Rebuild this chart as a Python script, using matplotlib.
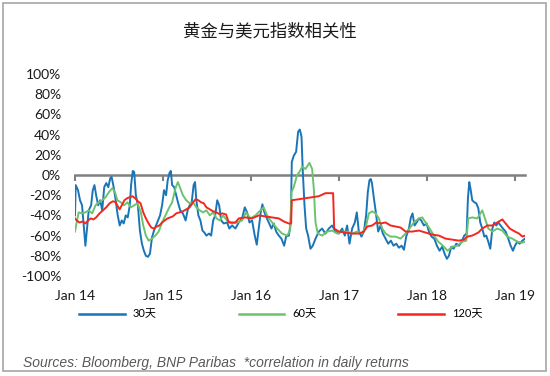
import matplotlib
matplotlib.use('Agg')
import matplotlib.pyplot as plt
from matplotlib.patches import Rectangle
from matplotlib.lines import Line2D

title = '黄金与美元指数相关性'
series_names = ['30天', '60天', '120天']
x_tick_pos = [0, 1, 2, 3, 4, 5]
x_tick_labels = ['Jan 14', 'Jan 15', 'Jan 16', 'Jan 17', 'Jan 18', 'Jan 19']
y_ticks = [-100, -80, -60, -40, -20, 0, 20, 40, 60, 80, 100]
y_tick_labels = ['-100%', '-80%', '-60%', '-40%', '-20%', '0%', '20%', '40%', '60%', '80%', '100%']
source_note = 'Sources: Bloomberg, BNP Paribas  *correlation in daily returns'

# time in years since Jan 2014, values in %
t_30 = [0.000, 0.008, 0.034, 0.057, 0.080, 0.099, 0.118, 0.134, 0.156, 0.183, 0.202, 0.221, 0.240, 0.263,
        0.286, 0.309, 0.332, 0.355, 0.378, 0.401, 0.416, 0.439, 0.462, 0.485, 0.508, 0.531, 0.553, 0.576,
        0.599, 0.622, 0.637, 0.656, 0.672, 0.691, 0.714, 0.737, 0.760, 0.782, 0.805, 0.828, 0.851, 0.874,
        0.897, 0.920, 0.943, 0.966, 0.989, 1.011, 1.034, 1.053, 1.073, 1.088, 1.103, 1.126, 1.149, 1.172,
        1.195, 1.225, 1.256, 1.279, 1.302, 1.324, 1.347, 1.363, 1.378, 1.401, 1.424, 1.447, 1.469, 1.492,
        1.523, 1.546, 1.569, 1.592, 1.615, 1.637, 1.660,
        1.689, 1.727, 1.753, 1.784, 1.822, 1.859, 1.897, 1.928, 1.954, 1.981, 2.011, 2.041, 2.064, 2.087,
        2.109, 2.128, 2.151, 2.174, 2.200, 2.231, 2.257, 2.284, 2.314, 2.344, 2.375, 2.397, 2.428, 2.450,
        2.462, 2.484, 2.511, 2.534, 2.553, 2.572, 2.587, 2.606, 2.625, 2.647, 2.674, 2.700, 2.731, 2.769,
        2.806, 2.844, 2.882, 2.920, 2.958, 2.996, 3.034, 3.064, 3.090, 3.117, 3.147, 3.178, 3.200, 3.223,
        3.253, 3.280, 3.306, 3.325, 3.344, 3.359,
        3.372, 3.394, 3.413, 3.443, 3.470, 3.496, 3.527, 3.557, 3.587, 3.617, 3.648, 3.678, 3.708, 3.735,
        3.761, 3.792, 3.814, 3.833, 3.856, 3.879, 3.905, 3.932, 3.962, 3.992, 4.019, 4.049, 4.080, 4.110,
        4.140, 4.170, 4.197, 4.223, 4.246, 4.273, 4.299, 4.330, 4.360, 4.390, 4.420, 4.447, 4.462, 4.477,
        4.492, 4.511, 4.534, 4.557, 4.580, 4.602, 4.625, 4.648, 4.670, 4.693, 4.716, 4.739, 4.761, 4.784,
        4.807, 4.833, 4.860, 4.890, 4.920, 4.947, 4.973, 4.996, 5.023, 5.049, 5.080, 5.110]
v_30 = [-40, -10, -15, -25, -30, -50, -70, -55, -35, -30, -15, -10, -20, -30,
        -25, -35, -12, -8, -12, -3, -2, -12, -25, -40, -50, -45, -48, -40,
        -42, -30, -10, 4, 3, -20, -30, -55, -68, -75, -80, -81, -78, -62,
        -55, -50, -45, -40, -30, -15, -20, -5, 2, 4, -10, -12, -20, -28,
        -35, -38, -45, -35, -30, -28, -10, -7, -25, -40, -45, -55, -57, -60,
        -58, -60, -45, -40, -25, -30, -45,
        -48, -47, -53, -50, -53, -47, -43, -32, -37, -47, -45, -60, -69, -53,
        -37, -29, -37, -42, -47, -53, -48, -56, -60, -63, -70, -61, -60, -47,
        13, 19, 23, 43, 45, 38, 3, -30, -53, -60, -73, -70, -63, -56,
        -53, -58, -53, -50, -56, -58, -53, -60, -50, -68, -53, -47, -37, -56,
        -61, -56, -40, -17, -5, -4,
        -8, -23, -35, -56, -50, -58, -63, -68, -65, -70, -68, -72, -70, -74,
        -61, -53, -42, -38, -50, -47, -43, -45, -50, -48, -56, -61, -63, -70,
        -75, -71, -78, -83, -80, -71, -73, -68, -70, -66, -60, -58, -23, -7,
        -14, -25, -27, -28, -33, -47, -53, -61, -60, -66, -73, -53, -47, -50,
        -47, -50, -53, -56, -63, -70, -75, -70, -66, -68, -65, -63]

t_60 = [0.000, 0.019, 0.042, 0.080, 0.118, 0.156, 0.195, 0.233, 0.271, 0.309, 0.347, 0.385, 0.424, 0.454,
        0.481, 0.519, 0.557, 0.595, 0.634, 0.672, 0.710, 0.748, 0.775, 0.805, 0.836, 0.874, 0.912, 0.950,
        0.989, 1.027, 1.065, 1.103, 1.141, 1.168, 1.195, 1.225, 1.263, 1.302, 1.340, 1.378, 1.416, 1.454,
        1.492, 1.531, 1.569, 1.607, 1.645,
        1.681, 1.727, 1.784, 1.840, 1.897, 1.943, 1.992, 2.049, 2.106, 2.143, 2.181, 2.238, 2.295, 2.352,
        2.409, 2.443, 2.458, 2.484, 2.522, 2.549, 2.579, 2.617, 2.662, 2.693, 2.712, 2.731, 2.757, 2.806,
        2.863, 2.920, 2.977, 3.034, 3.090, 3.147, 3.204, 3.261, 3.306, 3.337,
        3.375, 3.413, 3.451, 3.489, 3.527, 3.583, 3.640, 3.697, 3.754, 3.799, 3.848, 3.905, 3.943, 3.981,
        4.027, 4.076, 4.125, 4.178, 4.231, 4.284, 4.341, 4.398, 4.443, 4.466, 4.511, 4.568, 4.625, 4.655,
        4.693, 4.739, 4.795, 4.852, 4.909, 4.966, 5.023, 5.080, 5.110]
v_60 = [-56, -47, -37, -38, -37, -35, -38, -30, -27, -25, -22, -17, -13, -17,
        -25, -27, -30, -27, -32, -30, -28, -37, -50, -60, -65, -63, -60, -56,
        -47, -40, -33, -27, -13, -7, -13, -20, -25, -28, -27, -32, -35, -37,
        -35, -40, -37, -43, -45,
        -40, -45, -48, -47, -45, -37, -43, -40, -35, -32, -40, -47, -53, -58,
        -60, -55, -17, -12, 0, 3, 8, 6, 12, 6, -14, -47, -58, -60,
        -56, -55, -58, -56, -56, -58, -56, -58, -50, -38,
        -36, -38, -43, -53, -58, -61, -61, -63, -58, -53, -47, -43, -42, -47,
        -53, -60, -66, -70, -75, -71, -70, -66, -65, -43, -42, -43, -35, -43,
        -53, -56, -53, -55, -61, -63, -66, -67, -66]

t_120 = [0.000, 0.019, 0.050, 0.088, 0.118, 0.149, 0.179, 0.210, 0.240, 0.279, 0.317, 0.355, 0.393, 0.431,
         0.462, 0.485, 0.508, 0.531, 0.561, 0.592, 0.622, 0.653, 0.683, 0.714, 0.744, 0.775, 0.805, 0.836,
         0.866, 0.897, 0.927, 0.958, 0.989, 1.019, 1.050, 1.080, 1.111, 1.149, 1.187, 1.225, 1.263, 1.302,
         1.340, 1.370, 1.401, 1.431, 1.462, 1.492, 1.531, 1.569, 1.607, 1.645,
         1.670, 1.715, 1.746, 1.822, 1.859, 1.935, 2.011, 2.087, 2.162, 2.238, 2.314, 2.371, 2.428, 2.454,
         2.462, 2.541, 2.617, 2.693, 2.769, 2.844, 2.931, 2.943, 2.996, 3.072, 3.147, 3.223, 3.280, 3.318,
         3.375, 3.420, 3.470, 3.527, 3.583, 3.640, 3.697, 3.754, 3.830, 3.905, 3.981, 4.057, 4.133, 4.208,
         4.284, 4.360, 4.417, 4.455, 4.511, 4.580, 4.625, 4.682, 4.739, 4.795, 4.852, 4.890, 4.936, 4.996,
         5.042, 5.080, 5.110]
v_120 = [-43, -45, -47, -46, -48, -45, -43, -44, -42, -38, -35, -32, -28, -26,
         -27, -31, -34, -30, -25, -23, -22, -21, -23, -26, -28, -37, -43, -48,
         -52, -53, -51, -50, -47, -45, -43, -42, -41, -38, -37, -36, -34, -32,
         -27, -24, -25, -27, -28, -32, -34, -36, -37, -39,
         -38, -39, -47, -47, -43, -42, -43, -40, -41, -42, -43, -46, -48, -48,
         -25, -24, -23, -22, -21, -18, -18, -53, -56, -57, -58, -58, -56, -51,
         -50, -47, -48, -47, -50, -51, -52, -56, -56, -55, -57, -59, -60, -63,
         -64, -65, -64, -61, -60, -57, -53, -50, -50, -47, -44, -48, -53, -56,
         -58, -61, -60]

colors = ['#1A75B8', '#6DC26D', '#F5261E']

fig = plt.figure(figsize=(5.5, 3.76), dpi=100)
W, H = 550, 376
ax = fig.add_axes([75 / W, 1 - 276 / H, 450 / W, 202 / H])

ax.plot(t_30, v_30, color=colors[0], lw=1.4, zorder=3)
ax.plot(t_60, v_60, color=colors[1], lw=1.4, zorder=4)
ax.plot(t_120, v_120, color=colors[2], lw=1.4, zorder=5)

ax.set_xlim(0, 5.11)
ax.set_ylim(-100, 100)
for s in ['top', 'right', 'left']:
    ax.spines[s].set_visible(False)
ax.spines['bottom'].set_position(('data', 0))
ax.spines['bottom'].set_color('#808080')
ax.spines['bottom'].set_linewidth(1.8)
ax.spines['bottom'].set_zorder(2)
ax.set_xticks(x_tick_pos)
ax.tick_params(axis='x', direction='out', length=4, width=1.5, color='#808080', labelbottom=False)
ax.set_yticks(y_ticks)
ax.set_yticklabels(y_tick_labels)
ax.tick_params(axis='y', length=0, pad=10, labelsize=10, labelcolor='#1a1a1a')
for lab in ax.get_yticklabels():
    lab.set_family('Lato')

sec = ax.secondary_xaxis('bottom')
sec.set_xticks(x_tick_pos, labels=x_tick_labels)
sec.tick_params(length=0, pad=10, labelsize=10, labelcolor='#1a1a1a')
sec.spines['bottom'].set_visible(False)
for lab in sec.get_xticklabels():
    lab.set_family('Lato')

fig.text(270 / W, 1 - 31 / H, title, ha='center', va='center', fontsize=12.5,
         family='Noto Sans CJK SC', color='#1a1a1a')

handles = [Line2D([0], [0], color=c, lw=1.8) for c in colors]
fig.legend(handles, series_names, loc='center left', bbox_to_anchor=(79 / W, 1 - 314 / H),
           ncol=3, frameon=False, handlelength=4.1, handletextpad=0.7, columnspacing=7.4,
           borderpad=0, borderaxespad=0,
           prop={'family': ['Lato', 'Noto Sans CJK SC'], 'size': 8})

fig.text(23 / W, 1 - 363 / H, source_note, ha='left', va='center', fontsize=10,
         style='italic', family='Liberation Sans', color='#595959')

fig.patches.append(Rectangle((3 / W, 5 / H), 543 / W, 368 / H, transform=fig.transFigure,
                             fill=False, edgecolor='#a6a6a6', lw=1.2))

fig.savefig('out.png', dpi=100)
